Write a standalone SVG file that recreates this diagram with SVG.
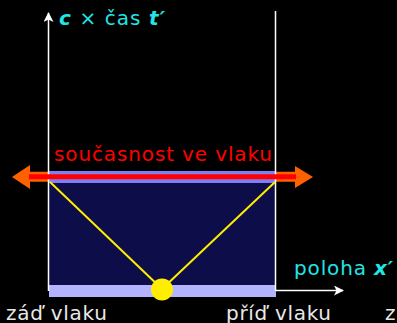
<svg xmlns="http://www.w3.org/2000/svg" width="397" height="323" viewBox="0 0 397 323">
<style>
.t{font-family:"DejaVu Sans","Verdana",sans-serif;font-size:20px}
.cy{fill:#22e5e5}
.wh{fill:#e8e8e8}
.ax{stroke:#ffffff;stroke-width:1.5;fill:none}
.yl{stroke:#ffee00;stroke-width:2}
</style>
<defs>
<marker id="ah" viewBox="0 0 10 10" refX="9" refY="5" markerWidth="10" markerHeight="10" markerUnits="userSpaceOnUse" orient="auto">
<path d="M0,0 L10,5 L0,10 L2.5,5 Z" fill="#ffffff"/>
</marker>
</defs>
<rect width="397" height="323" fill="#000000"/>
<g id="connectors">
<line x1="29" y1="176.7" x2="296" y2="176.7" stroke="#ff6000" stroke-width="10"/>
<polygon points="12,177 30,165 30,189" fill="#ff6000"/>
<polygon points="313,177 295,166 295,188" fill="#ff6000"/>
</g>
<g id="train">
<rect x="49" y="182" width="227" height="104" fill="#0d0d4a"/>
<rect x="49" y="171" width="227" height="12" fill="#7f7ff5"/>
<rect x="49" y="285" width="227" height="12" fill="#b3b3ff"/>
</g>
<g id="axes">
<line class="ax" x1="48.5" y1="291" x2="48.5" y2="13" marker-end="url(#ah)"/>
<line class="ax" x1="275.5" y1="291" x2="275.5" y2="11"/>
<line class="ax" x1="276" y1="290.5" x2="343" y2="290.5" marker-end="url(#ah)"/>
<line class="yl" x1="50" y1="182" x2="162" y2="289"/>
<line class="yl" x1="275" y1="182" x2="162" y2="289"/>
<line id="now-line" x1="29" y1="176.8" x2="296" y2="176.8" stroke="#ff0000" stroke-width="5"/>
</g>
<g id="light-source">
<circle cx="162" cy="289.5" r="11" fill="#ffee00"/>
</g>
<g id="labels">
<text class="t cy" x="59" y="25" textLength="106" lengthAdjust="spacing"><tspan font-weight="bold" font-style="italic">c</tspan> × čas <tspan font-weight="bold" font-style="italic">t′</tspan></text>
<text class="t" x="54" y="161" fill="#ff0000" textLength="218" lengthAdjust="spacing">současnost ve vlaku</text>
<text class="t cy" x="294" y="275" textLength="99" lengthAdjust="spacing">poloha <tspan font-weight="bold" font-style="italic">x′</tspan></text>
<text class="t wh" x="6" y="320" textLength="101" lengthAdjust="spacing">záď vlaku</text>
<text class="t wh" x="226" y="320" textLength="105" lengthAdjust="spacing">příď vlaku</text>
<text class="t wh" x="385" y="320">z</text>
</g>
</svg>
